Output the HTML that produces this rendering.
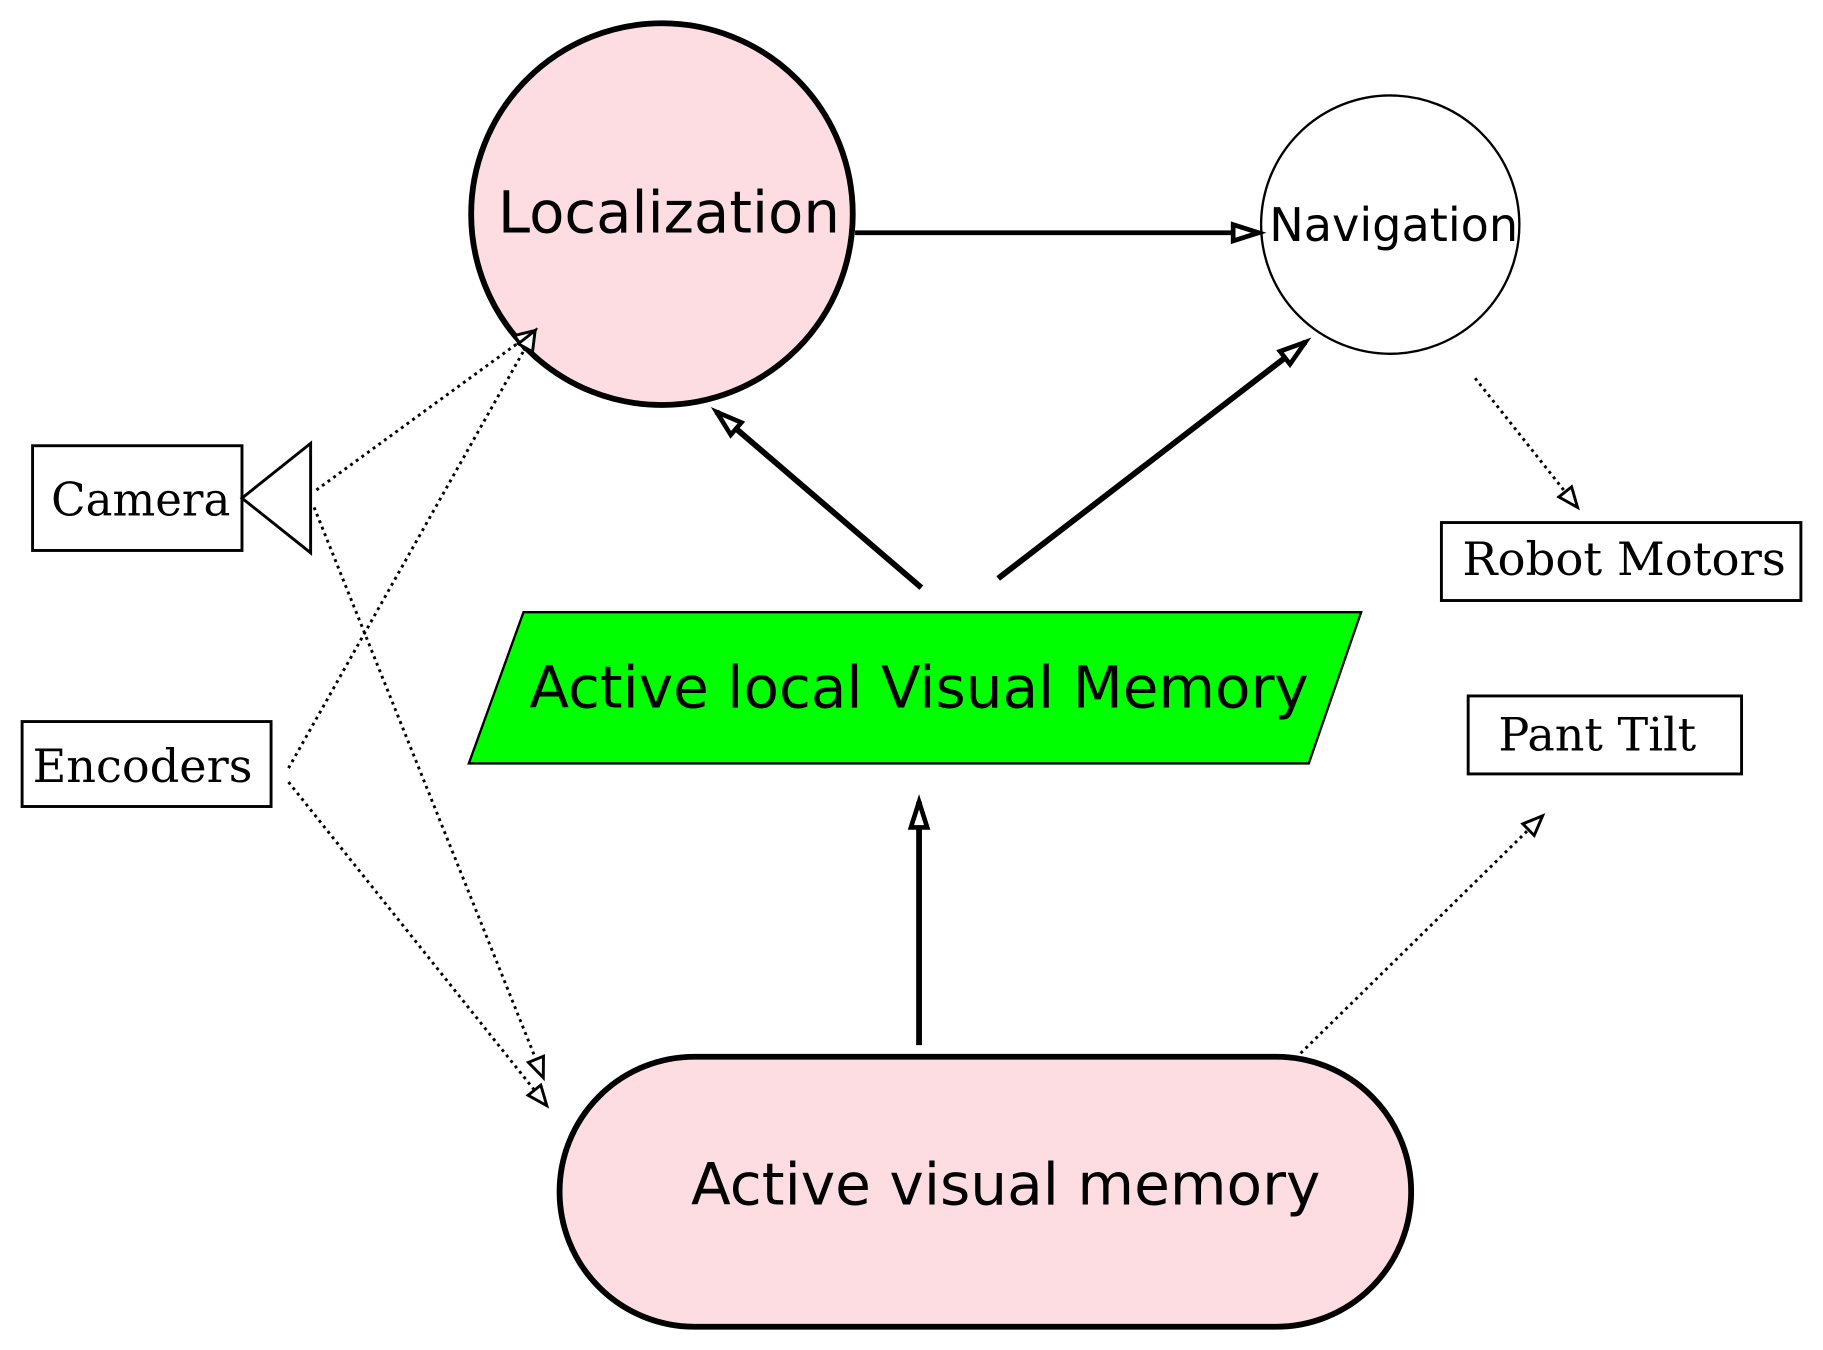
<!DOCTYPE html>
<html><head><meta charset="utf-8"><style>html,body{margin:0;padding:0;background:#fff}svg{display:block}</style></head>
<body>
<svg width="1823" height="1350" viewBox="0 0 1567 1160" preserveAspectRatio="none" xmlns="http://www.w3.org/2000/svg">
<defs>
<marker id="H" viewBox="0 0 30 20" refX="26" refY="10" markerWidth="30" markerHeight="20" markerUnits="userSpaceOnUse" orient="auto" overflow="visible">
<path d="M4,3 L26,10 L4,17 Z" fill="#fff" stroke="#000" stroke-width="4"/>
</marker>
<marker id="d" viewBox="0 0 20 16" refX="18" refY="8" markerWidth="20" markerHeight="16" markerUnits="userSpaceOnUse" orient="auto" overflow="visible">
<path d="M1,1 L18,8 L1,15 Z" fill="#fff" stroke="#000" stroke-width="2.5"/>
</marker>
</defs>
<g font-family="DejaVu Sans, sans-serif">
<circle cx="569" cy="184" r="164" fill="#fddde2" stroke="#000" stroke-width="5"/>
<text x="428" y="200" font-size="50" textLength="294" lengthAdjust="spacingAndGlyphs">Localization</text>
<circle cx="1195" cy="193" r="111" fill="#fff" stroke="#000" stroke-width="2"/>
<text x="1091" y="207" font-size="40" textLength="214" lengthAdjust="spacingAndGlyphs">Navigation</text>
<line x1="735" y1="200" x2="1082" y2="200" stroke="#000" stroke-width="4" marker-end="url(#H)"/>
<polygon points="450,526 1170,526 1125,656 403,656" fill="#00ff00" stroke="#000" stroke-width="2"/>
<text x="455" y="608" font-size="50" textLength="670" lengthAdjust="spacingAndGlyphs">Active local Visual Memory</text>
<rect x="481" y="908" width="732" height="232" rx="116" ry="116" fill="#fddde2" stroke="#000" stroke-width="5"/>
<text x="594" y="1035" font-size="50" textLength="541" lengthAdjust="spacingAndGlyphs">Active visual memory</text>
<line x1="792" y1="505" x2="616" y2="354" stroke="#000" stroke-width="5" marker-end="url(#H)"/>
<line x1="858" y1="497" x2="1122" y2="294" stroke="#000" stroke-width="5" marker-end="url(#H)"/>
<line x1="790" y1="898" x2="790" y2="689" stroke="#000" stroke-width="5" marker-end="url(#H)"/>
</g>
<g font-family="DejaVu Serif, Liberation Serif, serif" font-size="39">
<rect x="28" y="383" width="180" height="90" fill="#fff" stroke="#000" stroke-width="2.5"/>
<text x="44" y="443" textLength="154" lengthAdjust="spacingAndGlyphs">Camera</text>
<polygon points="208,428 267,381 267,475" fill="#fff" stroke="#000" stroke-width="2.5"/>
<rect x="19" y="620" width="214" height="73" fill="#fff" stroke="#000" stroke-width="2.5"/>
<text x="28" y="672" textLength="189" lengthAdjust="spacingAndGlyphs">Encoders</text>
<rect x="1239" y="449" width="309" height="67" fill="#fff" stroke="#000" stroke-width="2.5"/>
<text x="1257" y="494" textLength="278" lengthAdjust="spacingAndGlyphs">Robot Motors</text>
<rect x="1262" y="598" width="235" height="67" fill="#fff" stroke="#000" stroke-width="2.5"/>
<text x="1288" y="645" textLength="170" lengthAdjust="spacingAndGlyphs">Pant Tilt</text>
</g>
<g stroke="#000" stroke-width="2.5" stroke-dasharray="2.5,3.5" fill="none">
<line x1="272" y1="421" x2="460" y2="284" marker-end="url(#d)"/>
<line x1="248" y1="660" x2="460" y2="284" marker-end="url(#d)"/>
<line x1="270" y1="436" x2="467" y2="926" marker-end="url(#d)"/>
<line x1="248" y1="672" x2="470" y2="950" marker-end="url(#d)"/>
<line x1="1268" y1="325" x2="1356" y2="436" marker-end="url(#d)"/>
<line x1="1118" y1="905" x2="1326" y2="701" marker-end="url(#d)"/>
</g>
</svg>
</body></html>
